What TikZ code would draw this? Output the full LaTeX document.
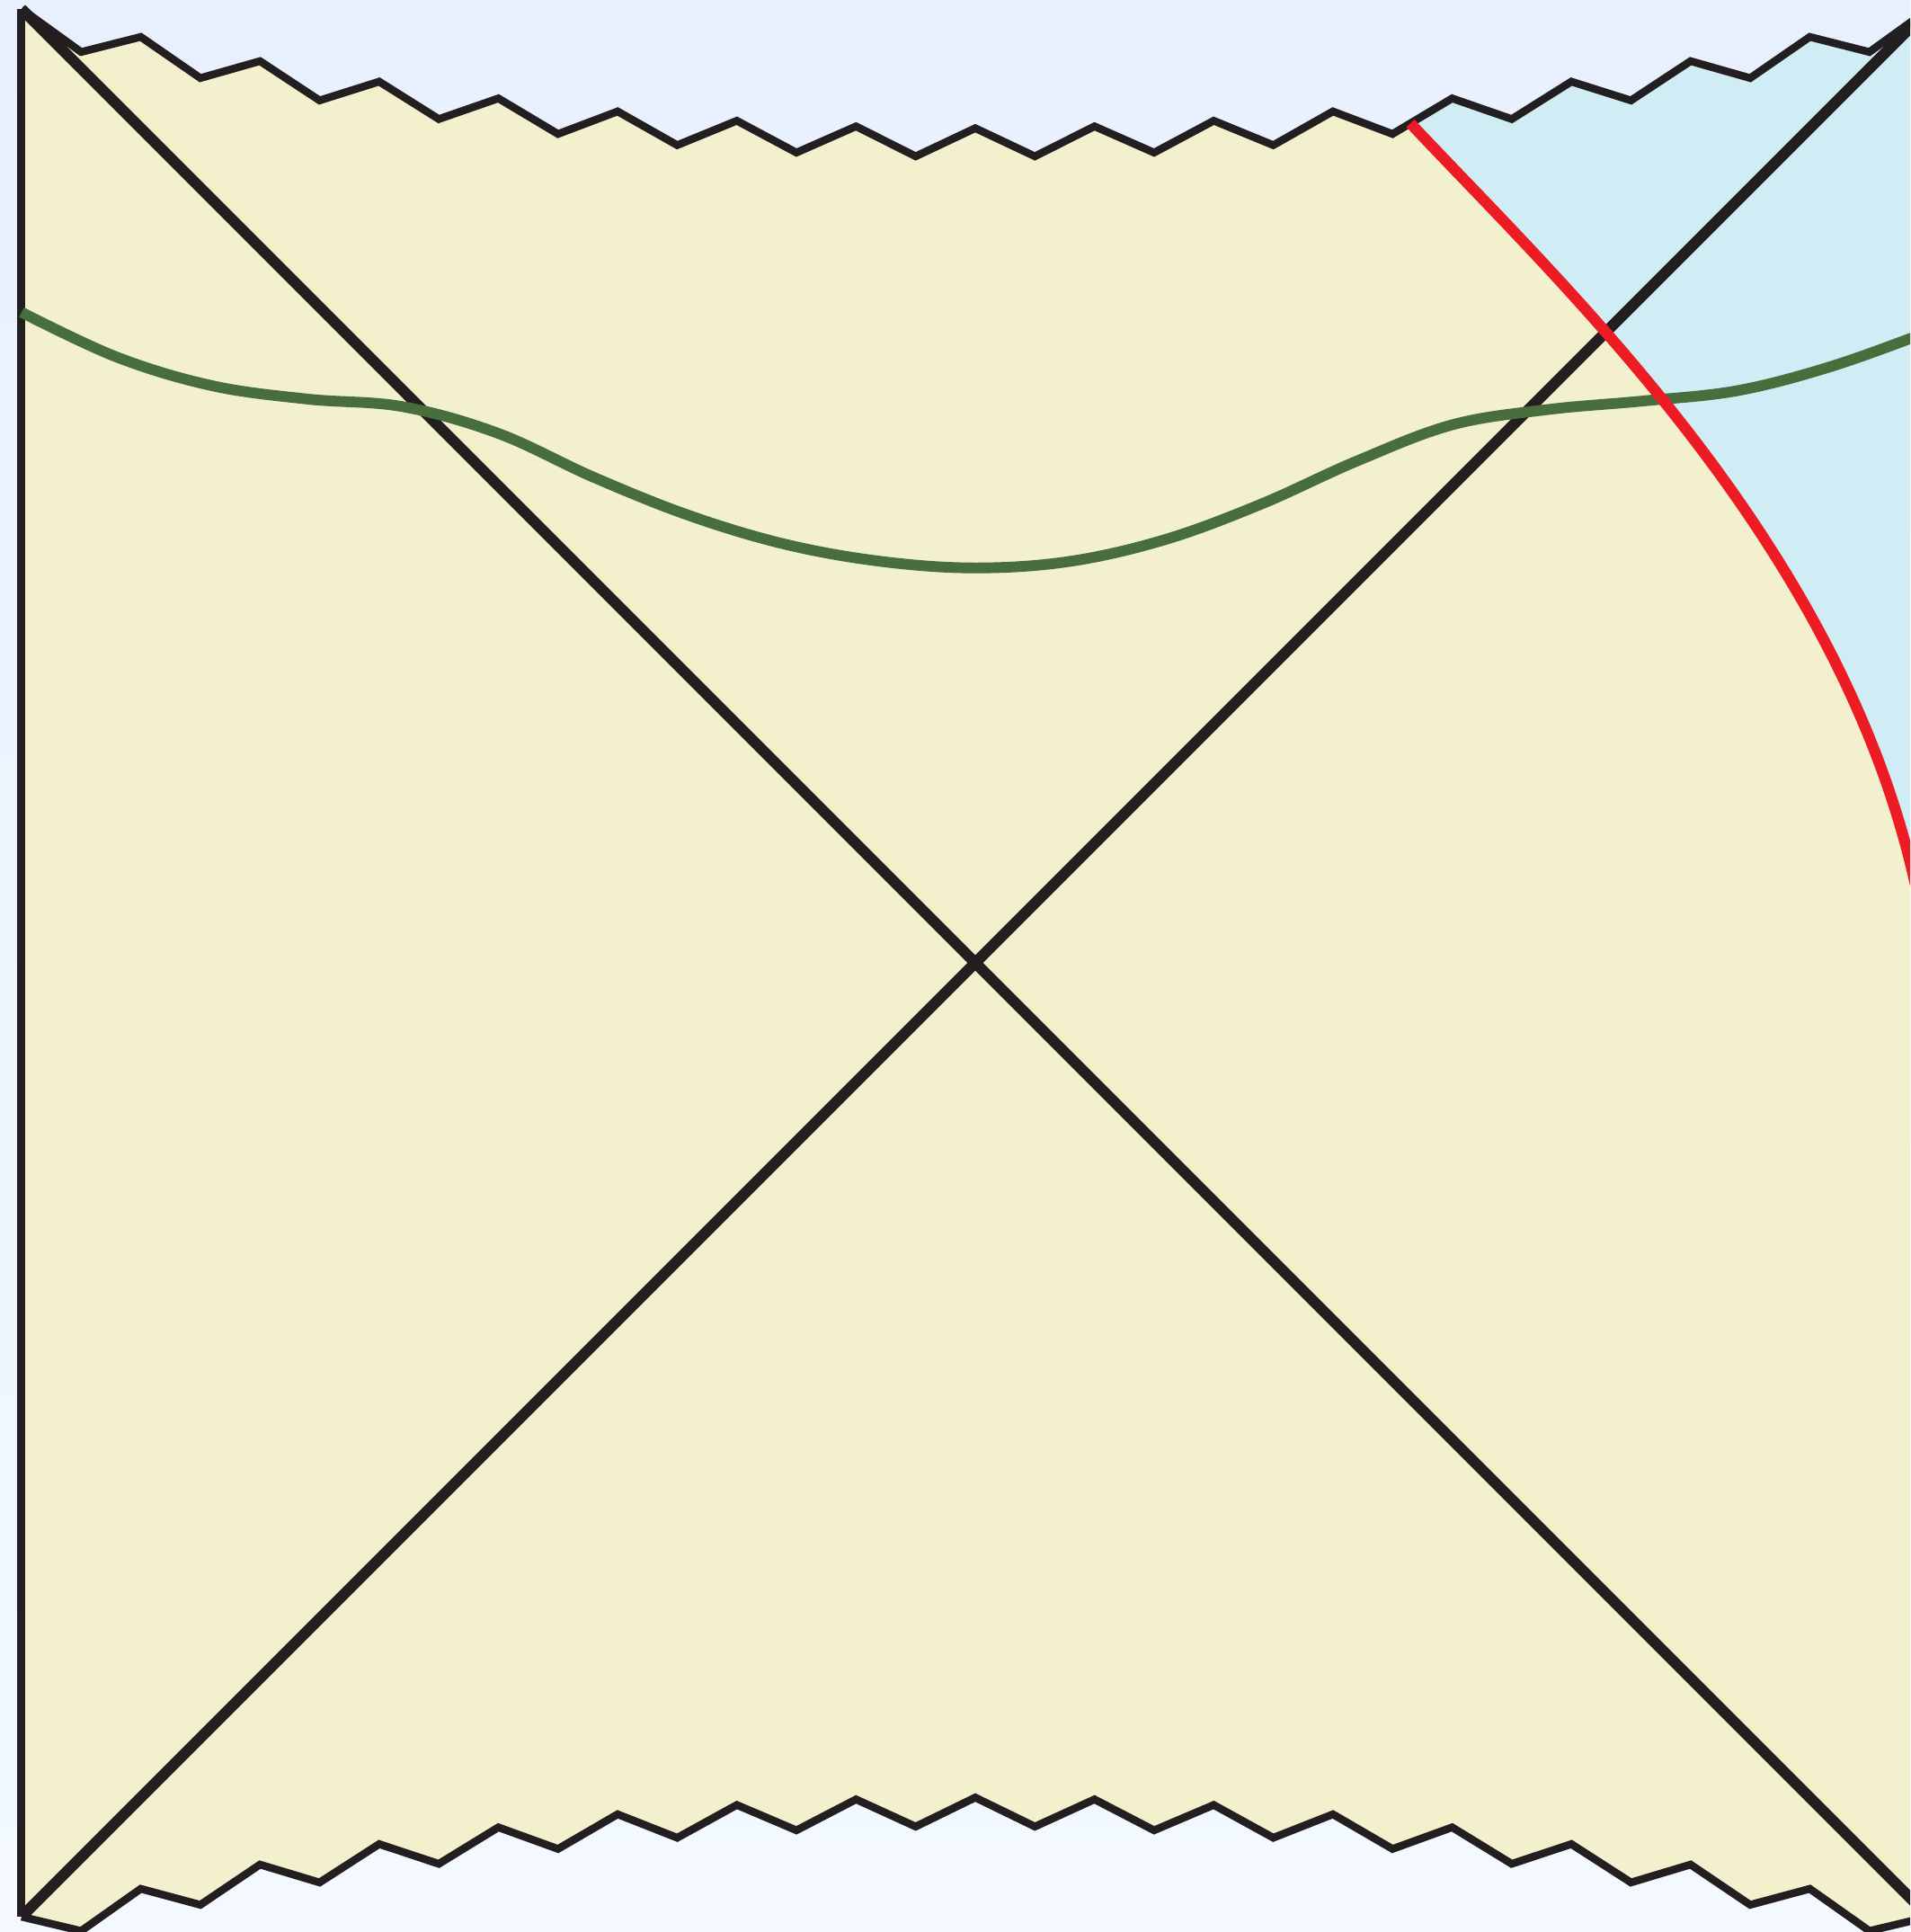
\documentclass[tikz,border=0pt]{standalone}
\usepackage{xcolor}
\usepackage{tikz}
\usetikzlibrary{calc}
\definecolor{skytop}{HTML}{E8F0FE}
\definecolor{skybot}{HTML}{F3F9FF}
\definecolor{bulkfill}{HTML}{F3F0CE}
\definecolor{wedgefill}{HTML}{D0ECF4}
\definecolor{branered}{HTML}{ED1C24}
\definecolor{slicegreen}{HTML}{476E3C}
\definecolor{inkblack}{HTML}{231F20}

\begin{document}
\begin{tikzpicture}[x=10cm,y=10cm,
  horizon/.style={line width=3.3pt,inkblack},
  boundary/.style={line width=2.4pt,inkblack},
  singular/.style={line width=2.3pt,inkblack,line join=miter},
  brane/.style={line width=3.3pt,branered},
  slice/.style={line width=3.2pt,slicegreen}
]
\useasboundingbox (-1.0226,-1.016) rectangle (0.9802,1.0094);
\shade[top color=skytop,bottom color=skybot] (-1.0226,-1.016) rectangle (0.9802,1.0094);
\clip (-1.0226,-1.016) rectangle (0.9802,1.0094);
% corners of the diagram
\coordinate (tl) at (-1,1); \coordinate (tr) at (1,1);
\coordinate (bl) at (-1,-1); \coordinate (br) at (1,-1);
\coordinate (inf) at (1,0);
% zigzag singularities
\coordinate (t0) at (tl); \coordinate (t32) at (tr);
\coordinate (b0) at (bl); \coordinate (b32) at (br);
\foreach \i in {1,...,31}{
  \pgfmathsetmacro\xk{(\i-16)/16}
  \pgfmathsetmacro\yk{1-0.125*(1-(\xk)*(\xk))}
  \pgfmathsetmacro\dk{0.03*mod(\i,2)}
  \coordinate (t\i) at (\xk,\yk-\dk);
  \coordinate (b\i) at (\xk,-\yk-\dk);
}
% brane leaves the singularity here
\coordinate (r0) at ($(t23)!0.3!(t24)$);

\fill[bulkfill] (b0) \foreach \i in {1,...,32}{ -- (b\i)} -- (t32) \foreach \i in {31,...,0}{ -- (t\i)} -- cycle;
\fill[wedgefill] (r0) .. controls (0.63,0.695) and (0.95,0.40) .. (inf) -- (tr) \foreach \i in {31,...,24}{ -- (t\i)} -- cycle;

\draw[boundary] (bl) -- (tl);
\draw[singular] (t0) \foreach \i in {1,...,32}{ -- (t\i)};
\draw[singular] (b0) \foreach \i in {1,...,32}{ -- (b\i)};
\draw[horizon] (tl) -- (br);
\draw[horizon] (bl) -- (tr);

% Cauchy slice
\draw[slice] plot[smooth,tension=0.6] coordinates {(-1,0.682) (-0.9,0.635) (-0.8,0.605) (-0.7,0.591)
  (-0.6,0.583) (-0.5,0.555) (-0.4,0.509) (-0.3,0.469) (-0.2,0.439) (-0.1,0.421) (0,0.414)
  (0.1,0.421) (0.2,0.444) (0.3,0.481) (0.4,0.526) (0.5,0.564) (0.6,0.580) (0.7,0.589)
  (0.8,0.600) (0.9,0.626) (1,0.662)};
\draw[brane] (r0) .. controls (0.63,0.695) and (0.95,0.40) .. (inf);
\end{tikzpicture}
\end{document}
